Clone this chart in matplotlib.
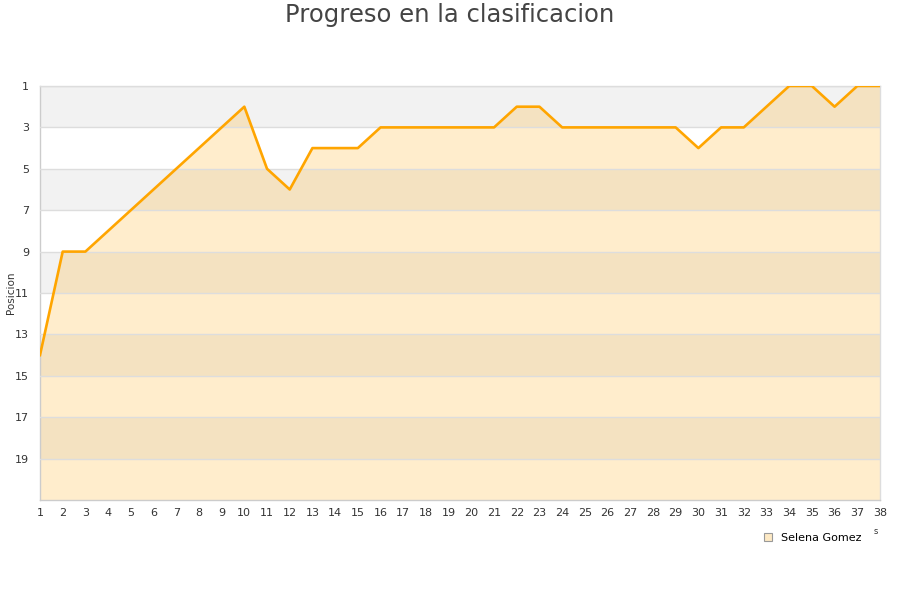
import matplotlib
matplotlib.use("Agg")
import matplotlib.pyplot as plt
from matplotlib.lines import Line2D

semanas = list(range(1, 39))
posiciones = [14, 9, 9, 8, 7, 6, 5, 4, 3, 2,
              5, 6, 4, 4, 4, 3, 3, 3, 3, 3,
              3, 2, 2, 3, 3, 3, 3, 3, 3, 4,
              3, 3, 2, 1, 1, 2, 1, 1]
yticks = [1, 3, 5, 7, 9, 11, 13, 15, 17, 19]
serie = "Selena Gomez"

fig = plt.figure(figsize=(9, 6), dpi=100)
ax = fig.add_axes([40/900, 1-500/600, 840/900, 414/600])

# alternating background bands
for i, y0 in enumerate(range(1, 21, 2)):
    if i % 2 == 0:
        ax.axhspan(y0, y0 + 2, color="#f2f2f2", zorder=0, lw=0)

ax.fill_between(semanas, posiciones, 21, color="#FFA500", alpha=0.2, lw=0, zorder=1)
ax.plot(semanas, posiciones, color="#FFA500", lw=1.9, zorder=3)

ax.set_xlim(1, 38)
ax.set_ylim(21, 1)
ax.set_xticks(semanas)
ax.set_yticks(yticks)
ax.tick_params(axis="both", length=0, labelsize=8, colors="#333333")
ax.tick_params(axis="x", pad=6)
ax.tick_params(axis="y", pad=8)
ax.grid(axis="y", color="#dddddd", lw=1, zorder=2)
ax.set_axisbelow(False)
for s in ax.spines.values():
    s.set_color("#dddddd")
    s.set_linewidth(1)
ax.spines["left"].set_color("#cccccc")
ax.spines["bottom"].set_color("#cccccc")

fig.text(11/900, 1-293/600, "Posicion", rotation=90, ha="center", va="center",
         fontsize=7.5, color="#333333")

fig.text(0.5, 1-15/600, "Progreso en la clasificacion", ha="center", va="center",
         fontsize=17.5, color="#444444")

handle = Line2D([], [], marker="s", linestyle="none", markersize=6,
                markerfacecolor="#fde9c4", markeredgecolor="#999999", markeredgewidth=0.8)
fig.legend([handle], [serie], loc="center left", bbox_to_anchor=(752/900, 1-538/600),
           frameon=False, fontsize=8, handletextpad=0.2, borderaxespad=0)

fig.text(876/900, 1-531/600, "s", fontsize=6, color="#333333", ha="center", va="center")

fig.savefig("out.png", dpi=100)
